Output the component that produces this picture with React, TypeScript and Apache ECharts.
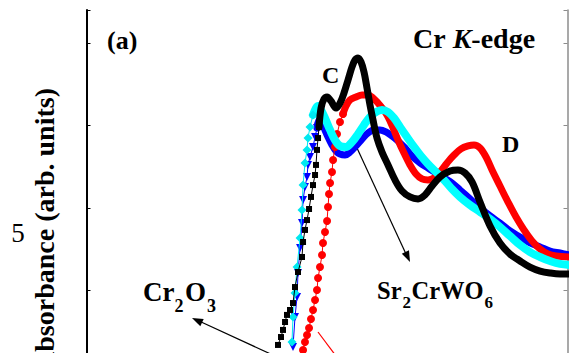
import React, { useEffect, useRef } from "react";
import * as echarts from "echarts";

// Energy (eV) / normalized absorbance
const blackEdge: number[][] = [
  [5995.53, 0.17], [5995.93, 0.218], [5996.2, 0.261], [5996.47, 0.309], [5996.73, 0.352],
  [5997.13, 0.382], [5997.53, 0.424], [5997.8, 0.521], [5998.2, 0.612], [5998.73, 0.703],
  [5998.87, 0.794], [5999.13, 0.867], [5999.4, 0.927], [5999.67, 0.994], [5999.93, 1.067],
  [6000.2, 1.139], [6000.47, 1.2], [6000.6, 1.261], [6000.73, 1.352], [6000.87, 1.424], [6001.0, 1.491],
];
const blackBand: number[][] = [
  [6001.0, 1.491], [6001.27, 1.606], [6001.67, 1.661], [6002.07, 1.673], [6002.6, 1.648],
  [6003.27, 1.606], [6003.8, 1.636], [6004.33, 1.697], [6004.87, 1.776], [6005.4, 1.855],
  [6005.8, 1.897], [6006.2, 1.909], [6006.6, 1.885], [6007.0, 1.824], [6007.4, 1.727],
  [6007.8, 1.624], [6008.2, 1.533], [6008.73, 1.424], [6009.4, 1.339], [6010.2, 1.261],
  [6011.13, 1.17], [6012.07, 1.103], [6013.13, 1.067], [6014.2, 1.055], [6015.13, 1.079],
  [6016.07, 1.133], [6017.13, 1.188], [6018.47, 1.224], [6019.53, 1.23], [6020.47, 1.212],
  [6021.4, 1.158], [6022.47, 1.036], [6023.8, 0.891], [6025.13, 0.788], [6026.47, 0.721],
  [6027.8, 0.679], [6029.13, 0.642], [6030.47, 0.618], [6031.8, 0.606], [6033.13, 0.6], [6034.47, 0.6],
];
const redEdge: number[][] = [
  [5998.87, 0.139], [5999.13, 0.188], [5999.4, 0.23], [5999.67, 0.273], [5999.93, 0.327],
  [6000.2, 0.382], [6000.47, 0.442], [6000.73, 0.503], [6000.87, 0.576], [6001.13, 0.642],
  [6001.4, 0.715], [6001.53, 0.788], [6001.8, 0.855], [6002.07, 0.921], [6002.2, 1.006],
  [6002.33, 1.085], [6002.47, 1.152], [6002.73, 1.218], [6002.87, 1.291], [6003.13, 1.37],
  [6003.4, 1.448], [6003.8, 1.521], [6004.2, 1.57],
];
const redBand: number[][] = [
  [6004.2, 1.57], [6004.6, 1.618], [6005.13, 1.655], [6005.93, 1.673], [6006.73, 1.685],
  [6007.53, 1.685], [6008.2, 1.667], [6008.87, 1.636], [6009.53, 1.6], [6010.2, 1.552],
  [6010.87, 1.485], [6011.53, 1.412], [6012.33, 1.333], [6013.13, 1.261], [6013.93, 1.206],
  [6014.73, 1.176], [6015.53, 1.17], [6016.33, 1.182], [6017.13, 1.218], [6018.07, 1.273],
  [6019.0, 1.321], [6019.93, 1.358], [6020.87, 1.376], [6021.67, 1.382], [6022.47, 1.364],
  [6023.27, 1.309], [6024.07, 1.23], [6025.13, 1.133], [6026.2, 1.036], [6027.27, 0.945],
  [6028.33, 0.867], [6029.4, 0.8], [6030.47, 0.752], [6031.53, 0.721], [6032.6, 0.709], [6034.47, 0.703],
];
const blueEdge: number[][] = [
  [5997.53, 0.158], [5997.8, 0.339], [5998.07, 0.461], [5998.2, 0.606], [5998.47, 0.758],
  [5998.73, 0.909], [5998.87, 1.048], [5999.13, 1.127], [5999.4, 1.188], [5999.53, 1.261],
  [5999.8, 1.309], [6000.2, 1.37], [6000.47, 1.43], [6000.73, 1.485],
];
const blueBand: number[][] = [
  [6000.73, 1.485], [6001.0, 1.533], [6001.27, 1.527], [6001.67, 1.485], [6002.2, 1.43],
  [6002.73, 1.382], [6003.27, 1.345], [6003.8, 1.327], [6004.47, 1.321], [6005.13, 1.339],
  [6005.93, 1.376], [6006.73, 1.418], [6007.53, 1.455], [6008.33, 1.473], [6009.13, 1.473],
  [6009.93, 1.461], [6010.73, 1.436], [6011.53, 1.406], [6012.47, 1.364], [6013.4, 1.315],
  [6014.47, 1.273], [6015.53, 1.242], [6016.6, 1.212], [6017.67, 1.182], [6018.73, 1.152],
  [6019.8, 1.109], [6021.13, 1.055], [6022.47, 1.0], [6023.8, 0.952], [6025.13, 0.909],
  [6026.47, 0.861], [6027.8, 0.824], [6029.13, 0.788], [6030.47, 0.764], [6031.8, 0.739],
  [6033.13, 0.727], [6034.47, 0.715],
];
const cyanEdge: number[][] = [
  [5997.4, 0.188], [5997.53, 0.339], [5997.8, 0.485], [5998.07, 0.642], [5998.47, 0.818],
  [5998.73, 0.988], [5998.87, 1.139], [5999.13, 1.273], [5999.4, 1.352], [5999.53, 1.424],
  [5999.8, 1.491], [6000.2, 1.564],
];
const cyanBand: number[][] = [
  [6000.2, 1.564], [6000.6, 1.606], [6000.87, 1.618], [6001.27, 1.594], [6001.8, 1.545],
  [6002.47, 1.473], [6003.13, 1.412], [6003.8, 1.376], [6004.6, 1.37], [6005.4, 1.4],
  [6006.2, 1.448], [6007.0, 1.503], [6007.8, 1.552], [6008.6, 1.582], [6009.4, 1.594],
  [6010.2, 1.582], [6011.0, 1.545], [6011.8, 1.491], [6012.73, 1.43], [6013.67, 1.37],
  [6014.6, 1.315], [6015.53, 1.267], [6016.6, 1.218], [6017.67, 1.17], [6018.73, 1.115],
  [6019.8, 1.067], [6021.13, 1.018], [6022.47, 0.976], [6023.8, 0.933], [6025.13, 0.885],
  [6026.47, 0.83], [6027.8, 0.776], [6029.13, 0.733], [6030.47, 0.703], [6031.8, 0.679],
  [6033.13, 0.661], [6034.47, 0.655],
];

const SERIF = "Liberation Serif";

function band(data: number[][], color: string, width: number, z: number) {
  return {
    type: "line", data, smooth: 0.35, showSymbol: false, symbol: "none", z,
    lineStyle: { color, width, cap: "round", join: "round" }, silent: true,
  };
}
function edge(data: number[][], color: string, symbol: string, size: number, rotate: number, z: number) {
  return {
    type: "line", data, symbol, symbolSize: size, symbolRotate: rotate, showSymbol: true, z,
    itemStyle: { color }, lineStyle: { color, width: 1 }, silent: true,
  };
}

function txt(x: number, y: number, text: string, size: number, extra: any = {}) {
  return {
    type: "text", x, y, silent: true,
    style: { text, fontFamily: SERIF, fontSize: size, fontWeight: "bold", fill: "#000", verticalAlign: "middle", align: "left", ...extra },
  };
}

export default function App() {
  const ref = useRef<HTMLDivElement>(null);
  useEffect(() => {
    if (!ref.current) return;
    const chart = echarts.init(ref.current, null, { renderer: "svg" });
    chart.setOption({
      animation: false,
      backgroundColor: "#fff",
      textStyle: { fontFamily: SERIF },
      grid: { left: 86.5, right: 1.5, top: 10, bottom: 27 },
      xAxis: [{
        type: "value", position: "top", min: 5970, max: 6034.13, interval: 5,
        axisLine: { show: true, lineStyle: { color: "#000", width: 2 } },
        axisTick: { show: true, inside: true, length: 4, lineStyle: { color: "#000", width: 1 } },
        axisLabel: { show: false }, splitLine: { show: false },
      }],
      yAxis: [
        {
          type: "value", position: "left", min: 0, max: 2.2, interval: 0.5,
          axisLine: { show: true, lineStyle: { color: "#000", width: 2 } },
          axisTick: { show: true, inside: true, length: 4, lineStyle: { color: "#000", width: 1 } },
          axisLabel: { show: false }, splitLine: { show: false },
        },
        {
          type: "value", position: "right", min: 0, max: 2.2, interval: 0.5,
          axisLine: { show: true, lineStyle: { color: "#8c8c8c", width: 1.5 } },
          axisTick: { show: true, inside: true, length: 4, lineStyle: { color: "#8c8c8c", width: 1 } },
          axisLabel: { show: false }, splitLine: { show: false },
        },
      ],
      series: [
        band(blueBand, "#0000ff", 7, 2),
        edge(blueEdge, "#0000ff", "triangle", 8, 180, 2),
        band(redBand, "#ff0000", 7, 3),
        edge(redEdge, "#ff0000", "circle", 8, 0, 3),
        band(cyanBand, "#00ffff", 8, 4),
        edge(cyanEdge, "#00e8f0", "diamond", 9, 0, 4),
        band(blackBand, "#000000", 7, 5),
        edge(blackEdge, "#000000", "rect", 6, 0, 5),
      ],
      graphic: [
        txt(107, 40, "(a)", 26),
        {
          type: "text", x: 413, y: 38.5, silent: true,
          style: {
            text: "{b|Cr }{i|K}{b|-edge}", fontFamily: SERIF, fontSize: 28, fontWeight: "bold", verticalAlign: "middle",
            rich: {
              b: { fontFamily: SERIF, fontSize: 28, fontWeight: "bold", fill: "#000" },
              i: { fontFamily: SERIF, fontSize: 28, fontWeight: "bold", fontStyle: "italic", fill: "#000" },
            },
          },
        },
        txt(322, 75, "C", 24),
        txt(502, 144, "D", 24),
        txt(143, 292, "Cr", 27),
        txt(174.5, 306, "2", 18),
        txt(185, 292, "O", 27),
        txt(207, 306, "3", 18),
        txt(377, 290.5, "Sr", 24.5),
        txt(402.5, 302, "2", 17),
        txt(411.5, 290.5, "CrWO", 24.5),
        txt(484.5, 302, "6", 17),
        {
          type: "text", x: 44.5, y: 88, rotation: Math.PI / 2, silent: true,
          style: { text: "Absorbance (arb. units)", fontFamily: SERIF, fontSize: 28, fontWeight: "bold", fill: "#000", align: "right", verticalAlign: "middle" },
        },
        txt(18, 233, "5", 27, { fontWeight: "normal", align: "center" }),
        { type: "line", silent: true, shape: { x1: 275, y1: 356, x2: 199, y2: 321 }, style: { stroke: "#000", lineWidth: 1.2 } },
        { type: "polygon", silent: true, shape: { points: [[192, 318], [203.7, 319], [200.3, 326.2]] }, style: { fill: "#000" } },
        { type: "line", silent: true, shape: { x1: 357, y1: 148, x2: 406, y2: 254 }, style: { stroke: "#000", lineWidth: 1.2 } },
        { type: "polygon", silent: true, shape: { points: [[410, 262], [409, 250.3], [401.8, 253.7]] }, style: { fill: "#000" } },
        { type: "line", silent: true, shape: { x1: 318, y1: 332, x2: 348, y2: 372 }, style: { stroke: "#ff0000", lineWidth: 1.2 } },
      ],
    });
    return () => chart.dispose();
  }, []);
  return (
    <div style={{ position: "fixed", left: 0, top: 0, width: 569, height: 353, overflow: "hidden", background: "#fff" }}>
      <div ref={ref} style={{ width: 569, height: 400 }} />
    </div>
  );
}
